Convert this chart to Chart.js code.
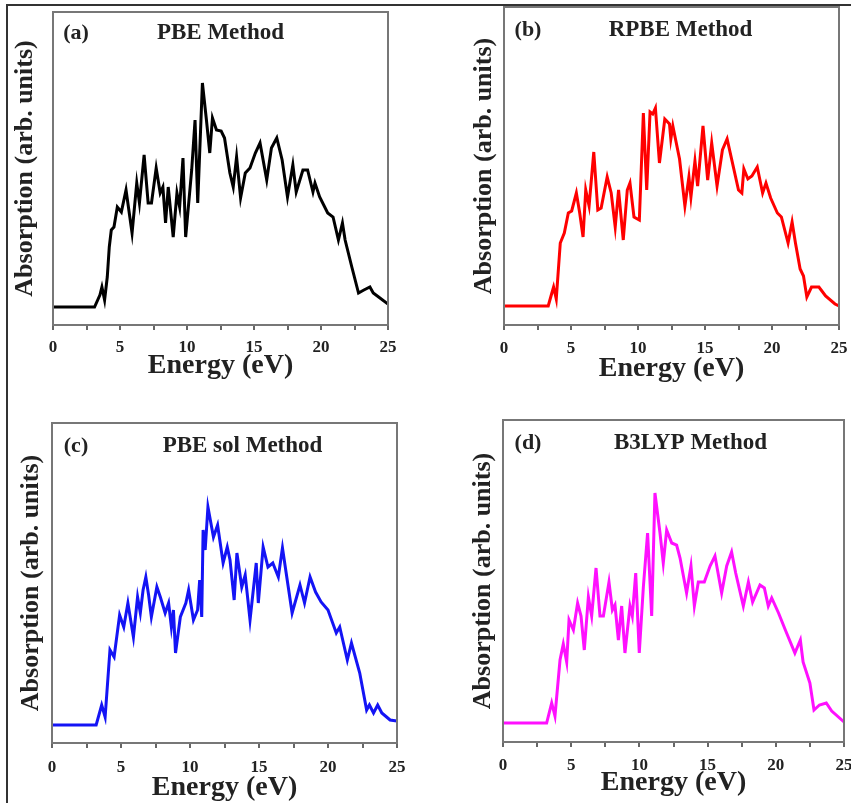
<!DOCTYPE html>
<html>
<head>
<meta charset="utf-8">
<script src="https://cdn.jsdelivr.net/npm/chart.js@4.4.1/dist/chart.umd.min.js"></script>
<style>
  html, body { margin: 0; padding: 0; background: #fff; overflow: hidden; }
  body { width: 851px; height: 803px; position: relative; }
  .frame { position: absolute; left: 6px; top: 4px; width: 900px; height: 900px;
           border-top: 2px solid #333; border-left: 2px solid #333; }
  canvas { position: absolute; display: block; }
</style>
</head>
<body>
<div class="frame"></div>
<canvas id="chartA" width="425" height="400" style="left:0;top:0"></canvas>
<canvas id="chartB" width="440" height="400" style="left:425px;top:0"></canvas>
<canvas id="chartC" width="425" height="410" style="left:0;top:400px"></canvas>
<canvas id="chartD" width="440" height="410" style="left:425px;top:400px"></canvas>
<script>
// absorption (arb. units, 0 = flat baseline)
var pbeEnergy = [0, 3.1, 3.5, 3.65, 3.85, 4.05, 4.2, 4.35, 4.55, 4.8, 5.1, 5.45, 5.9, 6.25, 6.45, 6.8, 7.1, 7.35, 7.7, 8.0, 8.2, 8.4, 8.6, 8.97, 9.25, 9.45, 9.7, 9.9, 10.35, 10.6, 10.8, 11.15, 11.45, 11.7, 11.9, 12.2, 12.55, 12.8, 13.2, 13.45, 13.7, 14.0, 14.35, 14.7, 15.1, 15.45, 15.95, 16.3, 16.7, 17.1, 17.5, 17.9, 18.15, 18.65, 19.0, 19.4, 19.55, 19.9, 20.5, 20.9, 21.3, 21.6, 21.8, 22.3, 22.8, 23.2, 23.65, 23.9, 24.3, 25];
var pbeAbs = [0, 0, 12, 20, 7, 30, 60, 77, 80, 100, 95, 117, 74, 124, 104, 152, 104, 104, 139, 114, 120, 84, 120, 70, 114, 100, 149, 70, 137, 187, 104, 224, 187, 154, 189, 177, 176, 169, 134, 120, 150, 109, 134, 139, 154, 164, 127, 159, 169, 147, 110, 142, 115, 137, 137, 115, 124, 110, 94, 90, 67, 84, 67, 40, 14, 17, 20, 14, 10, 3];

var rpbeEnergy = [0, 3.3, 3.55, 3.7, 3.9, 4.2, 4.5, 4.8, 5.05, 5.4, 5.65, 5.9, 6.1, 6.35, 6.7, 7.0, 7.25, 7.7, 8.0, 8.3, 8.55, 8.9, 9.2, 9.4, 9.7, 10.1, 10.4, 10.65, 10.9, 11.1, 11.3, 11.6, 12.0, 12.35, 12.45, 12.6, 13.1, 13.5, 13.8, 13.95, 14.25, 14.45, 14.85, 15.2, 15.5, 15.9, 16.3, 16.65, 17.5, 17.75, 17.9, 18.2, 18.5, 18.9, 19.3, 19.55, 19.9, 20.4, 20.7, 21.2, 21.5, 21.75, 22.1, 22.35, 22.6, 22.95, 23.5, 24.0, 24.7, 25];
var rpbeAbs = [0, 0, 12, 19, 7, 63, 73, 93, 95, 113, 93, 69, 116, 100, 154, 96, 98, 129, 113, 79, 116, 66, 116, 123, 89, 86, 193, 116, 194, 192, 198, 143, 187, 182, 167, 180, 147, 100, 129, 109, 145, 120, 180, 126, 163, 120, 156, 167, 116, 113, 137, 127, 130, 139, 113, 123, 108, 93, 89, 63, 84, 63, 37, 30, 9, 19, 19, 10, 2, 0];

var pbesolEnergy = [0, 3.2, 3.6, 3.85, 4.2, 4.5, 4.9, 5.2, 5.5, 5.9, 6.2, 6.4, 6.6, 6.8, 7.0, 7.2, 7.6, 7.85, 8.2, 8.45, 8.65, 8.8, 8.95, 9.3, 9.7, 9.9, 10.25, 10.55, 10.7, 10.85, 10.95, 11.1, 11.3, 11.7, 12.0, 12.4, 12.7, 12.9, 13.2, 13.4, 13.75, 14.0, 14.35, 14.8, 14.95, 15.3, 15.65, 16.0, 16.4, 16.7, 17.4, 17.97, 18.3, 18.7, 19.1, 19.5, 20.0, 20.6, 20.85, 21.4, 21.7, 22.3, 22.8, 23.0, 23.3, 23.6, 23.9, 24.5, 25];
var pbesolAbs = [0, 0, 20, 8, 75, 68, 110, 98, 122, 88, 128, 112, 135, 148, 130, 108, 138, 128, 112, 122, 98, 115, 72, 108, 122, 135, 105, 115, 145, 108, 195, 175, 218, 188, 200, 162, 178, 165, 125, 172, 138, 150, 105, 162, 122, 178, 158, 162, 148, 177, 112, 140, 122, 148, 133, 123, 115, 92, 98, 65, 82, 52, 15, 20, 12, 20, 12, 5, 4];

var b3lypEnergy = [0, 3.2, 3.57, 3.81, 4.18, 4.42, 4.67, 4.84, 5.16, 5.47, 5.72, 5.96, 6.26, 6.5, 6.82, 7.11, 7.36, 7.77, 8.02, 8.21, 8.46, 8.7, 8.94, 9.31, 9.48, 9.73, 9.99, 10.29, 10.6, 10.9, 11.14, 11.51, 11.75, 12.0, 12.37, 12.73, 12.98, 13.46, 13.78, 14.03, 14.32, 14.76, 15.18, 15.54, 16.03, 16.4, 16.76, 17.06, 17.62, 17.99, 18.3, 18.84, 19.16, 19.45, 19.7, 20.2, 20.7, 21.4, 21.8, 22.0, 22.5, 22.8, 23.2, 23.7, 24.1, 25];
var b3lypAbs = [0, 0, 20, 7, 63, 79, 61, 103, 93, 120, 107, 73, 126, 107, 155, 107, 107, 141, 113, 118, 83, 117, 70, 117, 107, 150, 70, 136, 190, 107, 230, 190, 160, 193, 180, 178, 165, 130, 157, 117, 141, 141, 157, 167, 130, 157, 171, 150, 117, 141, 121, 138, 135, 117, 125, 110, 93, 70, 83, 61, 40, 13, 18, 20, 12, 1];

var energyTicks = [0, 5, 10, 15, 20, 25];
var xTitle = "Energy (eV)";
var yTitle = "Absorption (arb. units)";

var serif = "'Liberation Serif', 'Times New Roman', serif";

var panels = [
  { id: "chartA", tag: "(a)", name: "PBE Method", energy: pbeEnergy, values: pbeAbs, color: "#000000",
    yMin: -18, yMax: 295, padTop: 12, padRight: 37, yWidth: 53, xHeight: 75,
    tickPad: 7, xTitlePad: 17, yTitlePad: 10, tagDx: 23, nameDx: 0, textDy: 21 },
  { id: "chartB", tag: "(b)", name: "RPBE Method", energy: rpbeEnergy, values: rpbeAbs, color: "#ff0000",
    yMin: -19, yMax: 299, padTop: 7, padRight: 26, yWidth: 79, xHeight: 75,
    tickPad: 8, xTitlePad: 14, yTitlePad: 44, tagDx: 24, nameDx: 9, textDy: 23 },
  { id: "chartC", tag: "(c)", name: "PBE sol Method", energy: pbesolEnergy, values: pbesolAbs, color: "#1414f5",
    yMin: -18, yMax: 302, padTop: 23, padRight: 28, yWidth: 52, xHeight: 67,
    tickPad: 9, xTitlePad: 5, yTitlePad: 16, tagDx: 24, nameDx: 18, textDy: 23 },
  { id: "chartD", tag: "(d)", name: "B3LYP Method", energy: b3lypEnergy, values: b3lypAbs, color: "#ff10ff",
    yMin: -19, yMax: 303, padTop: 20, padRight: 21, yWidth: 78, xHeight: 68,
    tickPad: 8, xTitlePad: 10, yTitlePad: 43, tagDx: 25, nameDx: 17, textDy: 23 }
];

// box around the plot + the "(a) PBE Method" labels inside it
var panelText = {
  id: "panelText",
  afterDraw: function (chart, args, opts) {
    var a = chart.chartArea;
    var ctx = chart.ctx;
    ctx.save();
    ctx.strokeStyle = "#777";
    ctx.lineWidth = 2;
    ctx.strokeRect(a.left, a.top, a.right - a.left, a.bottom - a.top);
    ctx.fillStyle = "#222";
    ctx.textAlign = "center";
    ctx.textBaseline = "middle";
    ctx.font = "bold 22px " + serif;
    ctx.fillText(opts.tag, a.left + opts.tagDx, a.top + opts.textDy);
    ctx.font = "bold 23px " + serif;
    ctx.fillText(opts.name, (a.left + a.right) / 2 + opts.nameDx, a.top + opts.textDy);
    ctx.restore();
  }
};

panels.forEach(function (p) {
  var points = p.energy.map(function (e, i) {
    return { x: e, y: p.values[i] };
  });

  new Chart(document.getElementById(p.id), {
    type: "line",
    data: {
      datasets: [
        {
          label: p.name,
          data: points,
          borderColor: p.color,
          borderWidth: 3,
          pointRadius: 0,
          tension: 0,
          fill: false,
        },
      ],
    },
    options: {
      responsive: false,
      animation: false,
      layout: { padding: { top: p.padTop, right: p.padRight, bottom: 0, left: 0 } },
      plugins: {
        legend: { display: false },
        tooltip: { enabled: false },
        panelText: { tag: p.tag, name: p.name, tagDx: p.tagDx, nameDx: p.nameDx, textDy: p.textDy },
      },
      scales: {
        x: {
          type: "linear",
          min: 0,
          max: 25,
          border: { display: false },
          grid: { drawOnChartArea: false, tickLength: 5, color: "#666", lineWidth: 2 },
          ticks: {
            stepSize: 2.5,
            autoSkip: false,
            maxRotation: 0,
            padding: p.tickPad,
            color: "#222",
            font: { family: serif, size: 17, weight: "bold" },
            callback: function (v) {
              return energyTicks.indexOf(v) >= 0 ? String(v) : "";
            },
          },
          title: {
            display: true,
            text: xTitle,
            color: "#222",
            font: { family: serif, size: 28, weight: "bold" },
            padding: { top: 0, bottom: p.xTitlePad },
          },
          afterFit: function (s) { s.height = p.xHeight; },
        },
        y: {
          min: p.yMin,
          max: p.yMax,
          border: { display: false },
          grid: { display: false },
          ticks: { display: false },
          title: {
            display: true,
            text: yTitle,
            color: "#222",
            font: { family: serif, size: 26, weight: "bold" },
            padding: { top: p.yTitlePad, bottom: 0 },
          },
          afterFit: function (s) { s.width = p.yWidth; },
        },
      },
    },
    plugins: [panelText],
  });
});
</script>
</body>
</html>
